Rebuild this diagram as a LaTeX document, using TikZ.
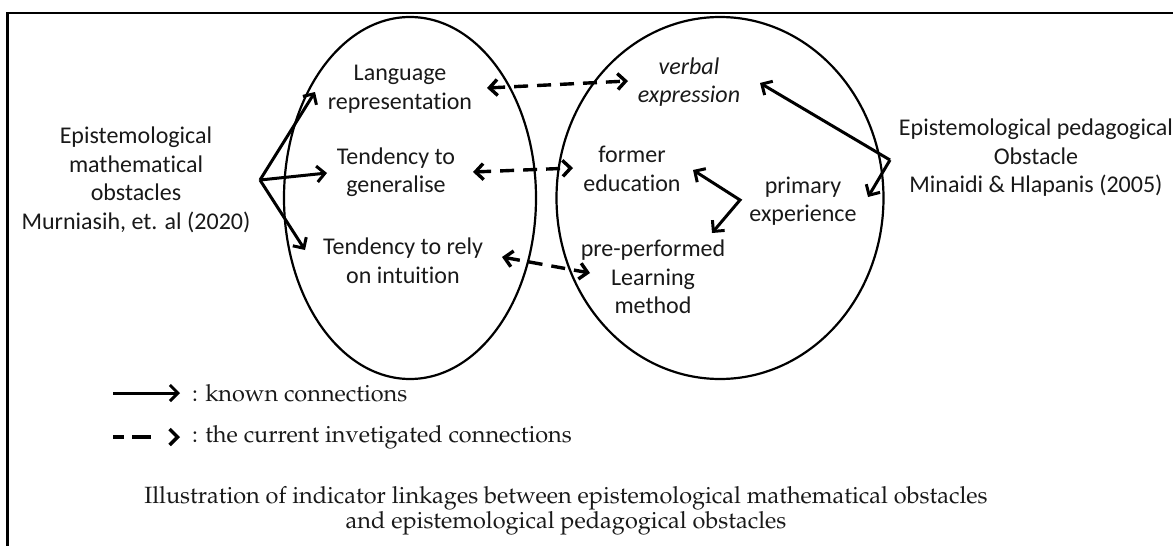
\documentclass[tikz,border=0pt]{standalone}
\usepackage[T1,TU]{fontenc}
\usepackage{fontspec}
\setmainfont{Carlito}[Ligatures=NoCommon]
\usetikzlibrary{arrows.meta,calc,shapes.geometric}
\newcommand\palfont{\fontencoding{T1}\fontfamily{ppl}\selectfont}
\definecolor{ink}{RGB}{25,25,25}
\begin{document}
\begin{tikzpicture}[x=1pt,y=-1pt,
  lbl/.style={align=center,inner sep=0pt,text=ink,font=\fontsize{24}{28.5}\selectfont},
  leg/.style={inner sep=0pt,text=ink,font=\palfont\fontsize{23.5}{25.5}\selectfont},
  oval/.style={draw=black,line width=2.2pt,ellipse,inner sep=0pt},
  barb/.tip={Straight Barb[length=8pt,width=16pt]},
  known/.style={draw=black,line width=3pt,line join=miter,-barb},
  knownboth/.style={draw=black,line width=3pt,line join=miter,barb-barb},
  inves/.style={draw=black,line width=3.4pt,dash pattern=on 14pt off 9pt,barb-barb},
  invesone/.style={draw=black,line width=3.4pt,dash pattern=on 11pt off 8pt on 19pt off 60pt,-barb},
  framestyle/.style={line width=2.5pt}]
\useasboundingbox (0,0) rectangle (1173,546);

% frame
\draw[framestyle] (1180,13) -- (7.5,13) -- (7.5,550);

% ovals
\node[oval,minimum width=252,minimum height=362] (ellL) at (410,198) {};
\node[oval,minimum width=327,minimum height=362] (ellR) at (720,198) {};

% texts
\node[lbl] (mathobs) at (136,180) {Epistemological\\mathematical\\obstacles\\Murniasih, et. al (2020)};
\node[lbl] (lang) at (400,89) {Language\\representation};
\node[lbl] (gen) at (396,172) {Tendency to\\generalise};
\node[lbl] (rely) at (403,261) {Tendency to rely\\on intuition};
\node[lbl,font=\fontsize{24}{28.5}\selectfont\itshape] (verbal) at (689,82) {verbal\\expression};
\node[lbl] (former) at (632,169) {former\\education};
\node[lbl] (pre) at (653,277) {pre-performed\\Learning\\method};
\node[lbl] (primary) at (803,201) {primary\\experience};
\node[lbl] (pedobs) at (1036,158) {Epistemological pedagogical\\Obstacle\\Minaidi \& Hlapanis (2005)};

% known connections (left)
\coordinate (o1) at ($(mathobs.center)+(124,0)$);
\draw[known] (o1) -- ($(lang.center)+(-85,3)$);
\draw[known] (o1) -- ($(gen.center)+(-69,1)$);
\draw[known] (o1) -- ($(rely.center)+(-98,-11)$);

% known connections (right)
\coordinate (o2) at ($(pedobs.center)+(-146,2)$);
\draw[known] (o2) -- ($(verbal.center)+(71,1)$);
\draw[known] (o2) -- ($(primary.center)+(65,-4)$);
\coordinate (c3) at (740,200);
\draw[knownboth] ($(former.center)+(61,1)$) -- (c3) -- ($(pre.center)+(59,-44)$);

% investigated connections
\draw[inves] ($(lang.center)+(87,-1)$) -- ($(verbal.center)+(-61,-1)$);
\draw[inves] ($(gen.center)+(77,0)$) -- ($(former.center)+(-59,-1)$);
\draw[inves] ($(rely.center)+(99,-4)$) -- ($(pre.center)+(-63,-4)$);

% legend
\node[leg,anchor=west] (k1) at (192,393) {: known connections};
\draw[known] ($(k1.west)+(-79,0)$) -- ($(k1.west)+(-12,0)$);
\node[leg,anchor=west] (k2) at (192,437) {: the current invetigated connections};
\draw[invesone] ($(k2.west)+(-79,0)$) -- ($(k2.west)+(-12,0)$);

% caption
\node[leg,align=center] (caption) at (566,511) {Illustration of indicator linkages between epistemological mathematical obstacles\\and epistemological pedagogical obstacles};
\end{tikzpicture}
\end{document}
